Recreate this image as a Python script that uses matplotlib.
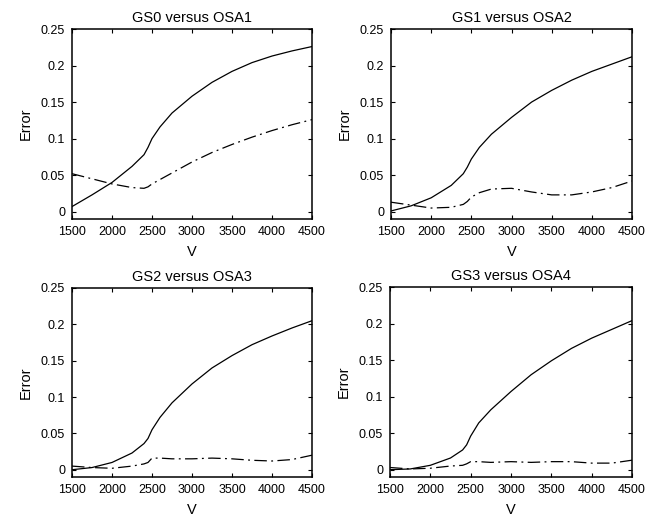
import numpy as np
import matplotlib.pyplot as plt

plt.rcParams['font.family'] = ['Liberation Sans', 'DejaVu Sans']

v = [1500, 1750, 2000, 2250, 2400, 2450, 2500, 2600, 2750, 3000, 3250, 3500, 3750, 4000, 4250, 4500]

titles = ['GS0 versus OSA1', 'GS1 versus OSA2', 'GS2 versus OSA3', 'GS3 versus OSA4']

# solid curves (GS)
gs0 = [0.007, 0.023, 0.040, 0.062, 0.078, 0.088, 0.100, 0.116, 0.135, 0.158, 0.177, 0.192, 0.204, 0.213, 0.220, 0.226]
gs1 = [0.001, 0.008, 0.019, 0.036, 0.052, 0.061, 0.072, 0.088, 0.106, 0.129, 0.150, 0.166, 0.180, 0.192, 0.202, 0.212]
gs2 = [0.000, 0.003, 0.010, 0.023, 0.036, 0.043, 0.055, 0.072, 0.092, 0.118, 0.140, 0.157, 0.172, 0.184, 0.195, 0.205]
gs3 = [0.000, 0.001, 0.006, 0.016, 0.027, 0.034, 0.046, 0.064, 0.082, 0.107, 0.130, 0.149, 0.166, 0.180, 0.192, 0.204]

# dash-dot curves (OSA)
osa1 = [0.052, 0.045, 0.038, 0.033, 0.032, 0.034, 0.038, 0.044, 0.053, 0.068, 0.081, 0.092, 0.102, 0.111, 0.119, 0.126]
osa2 = [0.013, 0.009, 0.005, 0.006, 0.010, 0.014, 0.020, 0.026, 0.031, 0.032, 0.027, 0.023, 0.023, 0.027, 0.033, 0.042]
osa3 = [0.005, 0.003, 0.002, 0.005, 0.008, 0.010, 0.016, 0.016, 0.015, 0.015, 0.016, 0.015, 0.013, 0.012, 0.014, 0.020]
osa4 = [0.003, 0.001, 0.002, 0.005, 0.006, 0.008, 0.011, 0.011, 0.010, 0.011, 0.010, 0.011, 0.011, 0.009, 0.009, 0.013]

solid = [gs0, gs1, gs2, gs3]
dashdot = [osa1, osa2, osa3, osa4]

fig = plt.figure(figsize=(6.59, 5.19), dpi=100)
W, H = 659, 519
boxes = [(72, 29, 312, 219), (391, 29, 632, 219), (72, 288, 312, 477), (390, 287, 632, 477)]

for i in range(4):
    x0, y0, x1, y1 = boxes[i]
    ax = fig.add_axes([x0 / W, 1 - y1 / H, (x1 - x0) / W, (y1 - y0) / H])
    ax.plot(v, solid[i], color='black', lw=0.9)
    ax.plot(v, dashdot[i], color='black', lw=0.9, dashes=(10, 3.5, 1.5, 3.5))
    ax.set_xlim(1500, 4500)
    ax.set_ylim(-0.01, 0.25)
    ax.set_xticks([1500, 2000, 2500, 3000, 3500, 4000, 4500])
    ax.set_yticks([0, 0.05, 0.1, 0.15, 0.2, 0.25])
    ax.set_yticklabels(['0', '0.05', '0.1', '0.15', '0.2', '0.25'])
    ax.tick_params(direction='in', top=True, right=True, labelsize=9, length=3, width=0.8, pad=5)
    for s in ax.spines.values():
        s.set_linewidth(1.1)
    ax.set_title(titles[i], fontsize=10.5, pad=5)
    ax.set_xlabel('V', fontsize=10.5, labelpad=5)
    ax.set_ylabel('Error', fontsize=10.5, labelpad=6)

fig.savefig('out.png', dpi=100)
